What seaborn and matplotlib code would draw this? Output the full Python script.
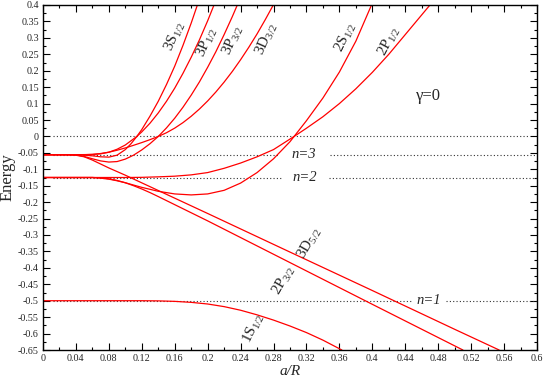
import numpy as np
import pandas as pd
import matplotlib
matplotlib.use("Agg")
import matplotlib.pyplot as plt
from matplotlib.ticker import MultipleLocator, FuncFormatter
import seaborn as sns

# ---------------- data ----------------
E3 = -0.0556
E2 = -0.125
E1 = -0.5

x_3S12 = [0, 0.03, 0.05, 0.06, 0.07, 0.08, 0.09, 0.10, 0.107, 0.114, 0.12, 0.13, 0.14, 0.15, 0.16, 0.17, 0.18, 0.1875]
y_3S12 = [E3, E3, -0.057, -0.059, -0.062, -0.063, -0.057, -0.040, -0.022, 0.000, 0.021, 0.062, 0.107, 0.158, 0.214, 0.277, 0.345, 0.400]

x_3P12 = [0, 0.04, 0.06, 0.07, 0.08, 0.09, 0.10, 0.114, 0.12, 0.13, 0.14, 0.15, 0.16, 0.17, 0.18, 0.19, 0.20, 0.2077]
y_3P12 = [E3, E3, -0.055, -0.053, -0.048, -0.039, -0.026, 0.000, 0.0138, 0.0404, 0.0715, 0.107, 0.147, 0.192, 0.241, 0.294, 0.352, 0.400]

x_3P32 = [0, 0.03, 0.04, 0.05, 0.06, 0.07, 0.08, 0.09, 0.10, 0.11, 0.12, 0.13, 0.14, 0.15, 0.16, 0.17, 0.18, 0.19, 0.20, 0.21, 0.22, 0.23, 0.236]
y_3P32 = [E3, E3, -0.0565, -0.061, -0.068, -0.0745, -0.078, -0.0765, -0.069, -0.057, -0.041, -0.022, 0.000, 0.026, 0.0555, 0.0888, 0.1257, 0.166, 0.2105, 0.258, 0.310, 0.365, 0.400]

x_3D32 = [0, 0.05, 0.06, 0.07, 0.08, 0.09, 0.10, 0.11, 0.12, 0.13, 0.14, 0.15, 0.16, 0.17, 0.18, 0.19, 0.20, 0.21, 0.22, 0.23, 0.24, 0.25, 0.26, 0.27, 0.2797]
y_3D32 = [E3, E3, -0.0545, -0.052, -0.048, -0.042, -0.035, -0.027, -0.0187, -0.0098, 0.000, 0.0113, 0.0253, 0.042, 0.0614, 0.0834, 0.108, 0.1354, 0.1654, 0.198, 0.2335, 0.2715, 0.312, 0.3556, 0.400]

x_3D52 = [0, 0.03, 0.04, 0.05, 0.06, 0.07, 0.08, 0.10, 0.20, 0.30, 0.40, 0.50, 0.554]
y_3D52 = [E3, E3, -0.057, -0.062, -0.072, -0.084, -0.096, -0.118, -0.2345, -0.352, -0.469, -0.587, -0.650]

x_2S12 = [0, 0.06, 0.07, 0.08, 0.09, 0.10, 0.12, 0.14, 0.16, 0.18, 0.20, 0.22, 0.24, 0.26, 0.28, 0.30, 0.305, 0.32, 0.34, 0.36, 0.38, 0.399]
y_2S12 = [E2, E2, -0.127, -0.130, -0.135, -0.141, -0.155, -0.167, -0.175, -0.178, -0.175, -0.164, -0.142, -0.110, -0.068, -0.016, 0.000, 0.048, 0.117, 0.196, 0.290, 0.400]

x_2P12 = [0, 0.10, 0.12, 0.14, 0.16, 0.18, 0.20, 0.22, 0.24, 0.26, 0.28, 0.305, 0.32, 0.34, 0.36, 0.38, 0.40, 0.42, 0.44, 0.47]
y_2P12 = [E2, E2, -0.1245, -0.123, -0.121, -0.117, -0.110, -0.097, -0.081, -0.062, -0.040, 0.000, 0.025, 0.060, 0.100, 0.145, 0.195, 0.250, 0.310, 0.400]

x_2P32 = [0, 0.06, 0.07, 0.08, 0.09, 0.10, 0.11, 0.12, 0.13, 0.14, 0.20, 0.30, 0.40, 0.51]
y_2P32 = [E2, E2, -0.126, -0.129, -0.134, -0.141, -0.150, -0.160, -0.171, -0.183, -0.257, -0.384, -0.511, -0.650]

x_1S12 = [0, 0.12, 0.14, 0.16, 0.18, 0.20, 0.22, 0.24, 0.26, 0.28, 0.30, 0.32, 0.34, 0.363]
y_1S12 = [E1, E1, -0.5005, -0.502, -0.505, -0.510, -0.518, -0.529, -0.543, -0.559, -0.577, -0.597, -0.620, -0.650]

states = ["3S12", "3P12", "3P32", "3D32", "3D52", "2S12", "2P12", "2P32", "1S12"]
xs = [x_3S12, x_3P12, x_3P32, x_3D32, x_3D52, x_2S12, x_2P12, x_2P32, x_1S12]
ys = [y_3S12, y_3P12, y_3P32, y_3D32, y_3D52, y_2S12, y_2P12, y_2P32, y_1S12]

# curve labels: text, x, y
label_texts = [r"3S$_{\mathit{1/2}}$", r"3P$_{\mathit{1/2}}$", r"3P$_{\mathit{3/2}}$", r"3D$_{\mathit{3/2}}$",
               r"2S$_{\mathit{1/2}}$", r"2P$_{\mathit{1/2}}$", r"3D$_{\mathit{5/2}}$", r"2P$_{\mathit{3/2}}$",
               r"1S$_{\mathit{1/2}}$"]
label_x = [0.160, 0.199, 0.231, 0.271, 0.368, 0.420, 0.324, 0.292, 0.256]
label_y = [0.305, 0.287, 0.293, 0.296, 0.302, 0.290, -0.324, -0.437, -0.585]
label_rot = [66, 66, 66, 66, 64, 62, 60, 60, 64]

# energy levels (dotted): value, segments
levels = [0.0, E3, E2, E1]
level_segments = [[(0.012, 0.59)],
                  [(0.012, 0.285), (0.349, 0.6)],
                  [(0.012, 0.29), (0.347, 0.6)],
                  [(0.012, 0.448), (0.49, 0.6)]]
level_names = [None, "n=3", "n=2", "n=1"]
level_name_x = [None, 0.317, 0.318, 0.469]

# ---------------- plotting ----------------
sns.set_theme(style="ticks")
plt.rcParams["font.family"] = ["Liberation Serif", "DejaVu Serif"]
plt.rcParams["mathtext.fontset"] = "custom"
plt.rcParams["mathtext.rm"] = "Liberation Serif"
plt.rcParams["mathtext.it"] = "Liberation Serif:italic"

rows = []
for s, xx, yy in zip(states, xs, ys):
    for i, (a, b) in enumerate(zip(xx, yy)):
        rows.append({"state": s, "x": a, "y": b, "i": i})
df = pd.DataFrame(rows)

fig = plt.figure(figsize=(5.45, 3.78), dpi=100)
ax = fig.add_axes([43 / 545, 1 - 350 / 378, 494 / 545, 345 / 378])

for lv, segs in zip(levels, level_segments):
    for (a, b) in segs:
        ax.hlines(lv, a, b, colors="#333333", linestyles=(0, (1, 2)), linewidth=0.8, zorder=1)

sns.lineplot(data=df, x="x", y="y", hue="state", units="state", estimator=None, sort=False,
             palette={s: "#ff0000" for s in states}, linewidth=0.9, legend=False, ax=ax, zorder=2)

for name, lx, lv in zip(level_names, level_name_x, levels):
    if name:
        ax.text(lx, lv, name, ha="center", va="center", fontsize=10.5, fontstyle="italic")

for t, lx, ly, r in zip(label_texts, label_x, label_y, label_rot):
    ax.text(lx, ly, t, ha="center", va="center", rotation=r, fontsize=11, rotation_mode="anchor")

ax.text(0.4676, 0.123, "γ=0", ha="center", va="center", fontsize=12)

ax.set_xlim(0, 0.6)
ax.set_ylim(-0.65, 0.4)
ax.xaxis.set_major_locator(MultipleLocator(0.04))
ax.xaxis.set_minor_locator(MultipleLocator(0.02))
ax.yaxis.set_major_locator(MultipleLocator(0.05))
ax.yaxis.set_minor_locator(MultipleLocator(0.025))
fmt = FuncFormatter(lambda v, p: ("%g" % round(v, 4)) if abs(v) > 1e-9 else "0")
ax.xaxis.set_major_formatter(fmt)
ax.yaxis.set_major_formatter(fmt)
ax.tick_params(which="both", direction="in", top=True, right=True, labelsize=7.3, width=0.8, color="black", pad=3)
ax.tick_params(which="major", length=5)
ax.tick_params(which="minor", length=2.5)
for sp in ax.spines.values():
    sp.set_linewidth(1.0)
    sp.set_color("black")
ax.set_xlabel("a/R", fontsize=11, fontstyle="italic", labelpad=1)
ax.set_ylabel("Energy", fontsize=12, labelpad=2)

fig.savefig("out.png", dpi=100)
